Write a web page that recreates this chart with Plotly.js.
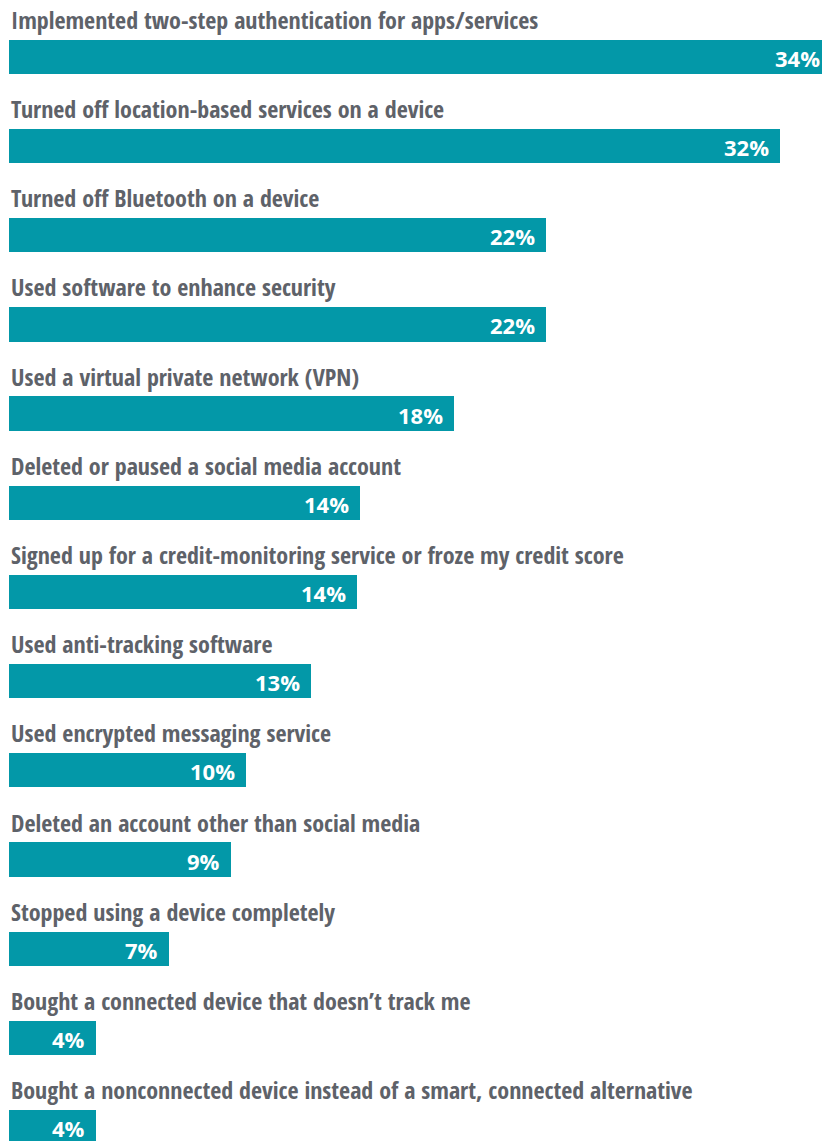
<!DOCTYPE html>
<html>
<head>
<meta charset="utf-8">
<script src="https://cdn.plot.ly/plotly-3.0.1.min.js"></script>
<style>
  html, body { margin: 0; padding: 0; background: #ffffff; overflow: hidden; }
  #chart { width: 831px; height: 1141px; }
  text.annotation-text[style*="Condensed"] { font-stretch: 75%; }
</style>
</head>
<body>
<div id="chart"></div>
<script>
const categories = [
  "Implemented two-step authentication for apps/services",
  "Turned off location-based services on a device",
  "Turned off Bluetooth on a device",
  "Used software to enhance security",
  "Used a virtual private network (VPN)",
  "Deleted or paused a social media account",
  "Signed up for a credit-monitoring service or froze my credit score",
  "Used anti-tracking software",
  "Used encrypted messaging service",
  "Deleted an account other than social media",
  "Stopped using a device completely",
  "Bought a connected device that doesn\u2019t track me",
  "Bought a nonconnected device instead of a smart, connected alternative"
];
const values = [34.0, 31.9, 22.2, 22.2, 18.4, 14.5, 14.4, 12.5, 9.8, 9.2, 6.6, 3.6, 3.6];
const valueLabels = ["34%", "32%", "22%", "22%", "18%", "14%", "14%", "13%", "10%", "9%", "7%", "4%", "4%"];

const barColor = "#0398a8";
const labelColor = "#5e6269";

const trace = {
  type: "bar",
  orientation: "h",
  x: values,
  y: categories,
  width: 0.385,
  marker: { color: barColor, line: { width: 0 } },
  hoverinfo: "none",
  showlegend: false
};

const annotations = [];
categories.forEach((c, i) => {
  annotations.push({
    xref: "x", yref: "y",
    x: 0, y: c,
    xanchor: "left", yanchor: "bottom",
    xshift: 0, yshift: 19,
    text: "<b>" + c + "</b>",
    showarrow: false,
    align: "left",
    font: { family: "'Open Sans Condensed', 'Open Sans', sans-serif", size: 24, color: labelColor }
  });
  annotations.push({
    xref: "x", yref: "y",
    x: values[i], y: c,
    xanchor: "right", yanchor: "middle",
    xshift: -9, yshift: -1,
    text: "<b>" + valueLabels[i] + "</b>",
    showarrow: false,
    font: { family: "'Open Sans', sans-serif", size: 22, color: "#ffffff" }
  });
});

const layout = {
  width: 831,
  height: 1141,
  margin: { l: 9, r: 0, t: 0, b: 0, pad: 0 },
  paper_bgcolor: "#ffffff",
  plot_bgcolor: "#ffffff",
  xaxis: { range: [0, 34], showgrid: false, zeroline: false, showticklabels: false, showline: false, ticks: "", fixedrange: true },
  yaxis: { type: "category", categoryorder: "array", categoryarray: categories, range: [12.157, -0.639], showgrid: false, zeroline: false, showticklabels: false, showline: false, ticks: "", fixedrange: true },
  annotations: annotations,
  bargap: 0
};

Plotly.newPlot("chart", [trace], layout, { displayModeBar: false, staticPlot: true });
</script>
</body>
</html>
